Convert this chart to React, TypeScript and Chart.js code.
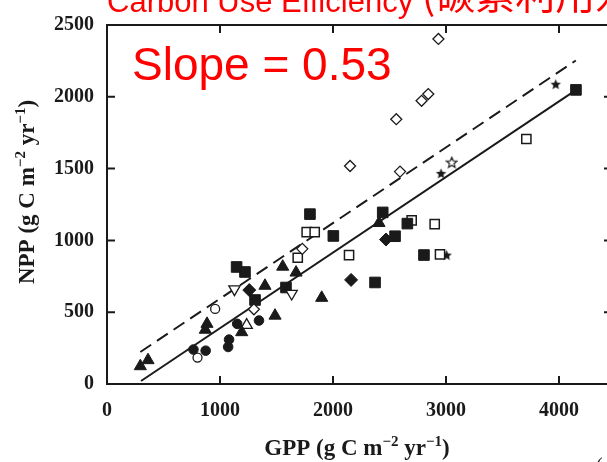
import React, { useEffect, useRef } from 'react';
import { Chart, registerables } from 'chart.js';

Chart.register(...registerables);

// ---- data (GPP, NPP in g C m-2 yr-1) ----
const xTickValues = [0, 1000, 2000, 3000, 4000];
const yTickValues = [0, 500, 1000, 1500, 2000, 2500];

const filledTriangle: number[][] = [[295, 124], [363, 166], [870, 378], [885, 419], [1192, 361], [1398, 684], [1487, 476], [1555, 817], [1673, 776], [1900, 600], [2407, 1121]];
const filledCircle: number[][] = [[765, 240], [873, 232], [1072, 258], [1080, 309], [1152, 419], [1345, 442]];
const openCircle: number[][] = [[801, 184], [957, 523]];
const openTriangle: number[][] = [[1236, 410]];
const openDownTriangle: number[][] = [[1128, 661], [1634, 630]];
const filledDiamond: number[][] = [[1259, 654], [2160, 725], [2469, 1006]];
const openDiamond: number[][] = [[1300, 520], [1728, 941], [2151, 1518], [2593, 1479], [2560, 1844], [2784, 1972], [2843, 2019], [2933, 2403]];
const filledSquare: number[][] = [[1147, 815], [1221, 780], [1310, 585], [1584, 672], [1796, 1183], [2003, 1031], [2372, 707], [2440, 1195], [2549, 1029], [2658, 1117], [2805, 898], [4150, 2048]];
const openSquare: number[][] = [[1688, 879], [1767, 1057], [1838, 1057], [2142, 898], [2696, 1140], [2900, 1114], [2947, 903], [3711, 1706]];
const filledStar: number[][] = [[2956, 1467], [3006, 898], [3971, 2088]];
const openStar: number[][] = [[3051, 1544]];
const fitLine: number[][] = [[301, 21], [4149, 2046]];
const upperLine: number[][] = [[295, 223], [4149, 2253]];

const slopeText = 'Slope = 0.53';
const titleLatin = 'Carbon Use Efficiency ';
const titleCJK = '(碳素利用效率)';
const xTitle = [{ t: 'GPP (g C m' }, { t: '−2', sup: true }, { t: ' yr' }, { t: '−1', sup: true }, { t: ')' }];
const yTitle = [{ t: 'NPP (g C m' }, { t: '−2', sup: true }, { t: ' yr' }, { t: '−1', sup: true }, { t: ')' }];

const INK = '#1a1a1a';
const SERIF = '"Liberation Serif", "Times New Roman", serif';

const toPts = (a: number[][]) => a.map(([x, y]) => ({ x, y }));

function makeStar(filled: boolean, size: number) {
  const c = document.createElement('canvas');
  c.width = size;
  c.height = size;
  const ctx = c.getContext('2d')!;
  const cx = size / 2, cy = size / 2 + 0.5, R = size / 2 - 1, r = R * 0.45;
  ctx.beginPath();
  for (let i = 0; i < 10; i++) {
    const a = -Math.PI / 2 + (i * Math.PI) / 5;
    const rr = i % 2 ? r : R;
    ctx.lineTo(cx + rr * Math.cos(a), cy + rr * Math.sin(a));
  }
  ctx.closePath();
  if (filled) {
    ctx.fillStyle = INK;
    ctx.fill();
  } else {
    ctx.fillStyle = '#fff';
    ctx.fill();
    ctx.strokeStyle = INK;
    ctx.lineWidth = 1.2;
    ctx.stroke();
  }
  return c;
}

type Seg = { t: string; sup?: boolean };
function drawRich(ctx: CanvasRenderingContext2D, segs: Seg[], cx: number, baseline: number, size: number) {
  const main = `bold ${size}px ${SERIF}`;
  const sup = `bold ${Math.round(size * 0.64)}px ${SERIF}`;
  let total = 0;
  for (const s of segs) {
    ctx.font = s.sup ? sup : main;
    total += ctx.measureText(s.t).width;
  }
  let x = cx - total / 2;
  ctx.textAlign = 'left';
  ctx.textBaseline = 'alphabetic';
  for (const s of segs) {
    ctx.font = s.sup ? sup : main;
    ctx.fillText(s.t, x, s.sup ? baseline - size * 0.4 : baseline);
    x += ctx.measureText(s.t).width;
  }
}

const framePlugin = {
  id: 'frame',
  afterDatasetsDraw(chart: any) {
    const { ctx, chartArea: a, scales } = chart;
    ctx.save();
    ctx.strokeStyle = INK;
    ctx.lineWidth = 2;
    ctx.strokeRect(a.left, a.top, a.right - a.left, a.bottom - a.top);
    const tl = 8;
    ctx.beginPath();
    for (const t of scales.x.ticks) {
      const px = scales.x.getPixelForValue(t.value);
      ctx.moveTo(px, a.bottom);
      ctx.lineTo(px, a.bottom - tl);
      ctx.moveTo(px, a.top);
      ctx.lineTo(px, a.top + tl);
    }
    for (const t of scales.y.ticks) {
      const py = scales.y.getPixelForValue(t.value);
      ctx.moveTo(a.left, py);
      ctx.lineTo(a.left + tl, py);
      ctx.moveTo(a.right, py);
      ctx.lineTo(a.right - tl, py);
    }
    ctx.stroke();
    ctx.restore();
  },
  afterDraw(chart: any) {
    const { ctx } = chart;
    ctx.save();
    ctx.fillStyle = INK;
    drawRich(ctx, xTitle, 357, 455, 23);
    ctx.save();
    ctx.translate(34, 192);
    ctx.rotate(-Math.PI / 2);
    drawRich(ctx, yTitle, 0, 0, 23);
    ctx.restore();

    ctx.fillStyle = '#ff0000';
    ctx.textAlign = 'left';
    ctx.textBaseline = 'alphabetic';
    ctx.font = '46px "Liberation Sans", Arial, sans-serif';
    ctx.fillText(slopeText, 132, 80);
    ctx.font = '31px "Liberation Sans", Arial, sans-serif';
    ctx.fillText(titleLatin, 107, 12);
    const w = ctx.measureText(titleLatin).width;
    ctx.font = '40px "Noto Sans CJK SC", sans-serif';
    ctx.fillText(titleCJK, 107 + w, 9);

    ctx.fillStyle = INK;
    ctx.font = `20px ${SERIF}`;
    ctx.fillText('(', 596, 472);
    ctx.restore();
  },
};

export default function App() {
  const ref = useRef<HTMLCanvasElement>(null);
  useEffect(() => {
    const canvas = ref.current!;
    const starFilled = makeStar(true, 13);
    const starOpen = makeStar(false, 13);
    const base = { showLine: false };
    const chart = new Chart(canvas, {
      type: 'scatter',
      data: {
        datasets: [
          { ...base, label: 'filled triangle', data: toPts(filledTriangle), pointStyle: 'triangle', pointRadius: 7, backgroundColor: INK, borderColor: INK, borderWidth: 1 },
          { ...base, label: 'filled circle', data: toPts(filledCircle), pointStyle: 'circle', pointRadius: 4.8, backgroundColor: INK, borderColor: INK, borderWidth: 1 },
          { ...base, label: 'open circle', data: toPts(openCircle), pointStyle: 'circle', pointRadius: 4.5, backgroundColor: '#fff', borderColor: INK, borderWidth: 1.3 },
          { ...base, label: 'open triangle', data: toPts(openTriangle), pointStyle: 'triangle', pointRadius: 6.5, backgroundColor: '#fff', borderColor: INK, borderWidth: 1.3 },
          { ...base, label: 'open down triangle', data: toPts(openDownTriangle), pointStyle: 'triangle', rotation: 180, pointRadius: 6.5, backgroundColor: '#fff', borderColor: INK, borderWidth: 1.3 },
          { ...base, label: 'filled diamond', data: toPts(filledDiamond), pointStyle: 'rectRot', pointRadius: 6.5, backgroundColor: INK, borderColor: INK, borderWidth: 1 },
          { ...base, label: 'open diamond', data: toPts(openDiamond), pointStyle: 'rectRot', pointRadius: 5.5, backgroundColor: '#fff', borderColor: INK, borderWidth: 1.3 },
          { ...base, label: 'filled square', data: toPts(filledSquare), pointStyle: 'rect', pointRadius: 7.5, backgroundColor: INK, borderColor: INK, borderWidth: 1 },
          { ...base, label: 'open square', data: toPts(openSquare), pointStyle: 'rect', pointRadius: 6.5, backgroundColor: '#fff', borderColor: INK, borderWidth: 1.5 },
          { ...base, label: 'filled star', data: toPts(filledStar), pointStyle: starFilled as any, pointRadius: 6.5 },
          { ...base, label: 'open star', data: toPts(openStar), pointStyle: starOpen as any, pointRadius: 6.5 },
          { label: 'fit', data: toPts(fitLine), showLine: true, pointRadius: 0, borderColor: INK, borderWidth: 2, backgroundColor: INK },
          { label: 'upper', data: toPts(upperLine), showLine: true, pointRadius: 0, borderColor: INK, borderWidth: 2, borderDash: [13, 7], backgroundColor: INK },
        ],
      },
      options: {
        responsive: false,
        animation: false,
        events: [],
        layout: { padding: { top: 23, right: 28, left: 0, bottom: 0 } },
        plugins: { legend: { display: false }, tooltip: { enabled: false }, title: { display: false } },
        scales: {
          x: {
            type: 'linear',
            min: 0,
            max: 4469,
            afterBuildTicks: (s: any) => { s.ticks = xTickValues.map((v) => ({ value: v })); },
            afterFit: (s: any) => { s.height = 78; },
            grid: { display: false, drawTicks: false },
            border: { display: false },
            ticks: { color: INK, padding: 15, font: { family: SERIF, size: 20, weight: 'bold' }, maxRotation: 0, callback: (v: any) => String(v) },
          },
          y: {
            type: 'linear',
            min: 0,
            max: 2500,
            afterBuildTicks: (s: any) => { s.ticks = yTickValues.map((v) => ({ value: v })); },
            afterFit: (s: any) => { s.width = 107; },
            grid: { display: false, drawTicks: false },
            border: { display: false },
            ticks: { color: INK, padding: 13, font: { family: SERIF, size: 20, weight: 'bold' }, callback: (v: any) => String(v) },
          },
        },
      },
      plugins: [framePlugin],
    } as any);
    return () => chart.destroy();
  }, []);

  return (
    <div style={{ position: 'fixed', left: 0, top: 0, width: 607, height: 462, overflow: 'hidden', background: '#fff' }}>
      <canvas ref={ref} width={640} height={462} style={{ width: 640, height: 462, display: 'block' }} />
    </div>
  );
}
